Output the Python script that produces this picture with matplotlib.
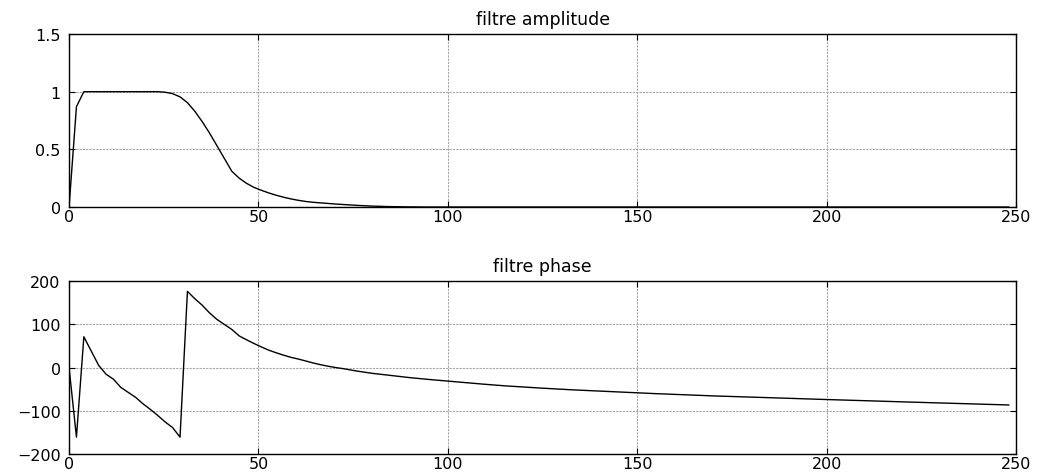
import numpy as np
import matplotlib
matplotlib.use("Agg")
import matplotlib.pyplot as plt

# frequency axis: 128 bins of a 256-point FFT at fs = 500 Hz
fs = 500
nfft = 256
freq = np.arange(128) * fs / nfft

# filter amplitude response (one value per bin)
amplitude = [
    0.0, 0.87, 1.0, 1.0, 1.0, 1.0, 1.0, 1.0, 1.0, 1.0,
    1.0, 1.0, 1.0, 0.995, 0.983, 0.955, 0.905, 0.83, 0.74, 0.64,
    0.53, 0.42, 0.31, 0.25, 0.205, 0.17, 0.145, 0.122, 0.102, 0.085,
    0.07, 0.058, 0.048, 0.041, 0.036, 0.031, 0.026, 0.022, 0.018, 0.014,
    0.011, 0.008, 0.006, 0.004, 0.003, 0.002, 0.001, 0.001, 0.0, 0.0,
    0.0, 0.0, 0.0, 0.0, 0.0, 0.0, 0.0, 0.0, 0.0, 0.0,
    0.0, 0.0, 0.0, 0.0, 0.0, 0.0, 0.0, 0.0, 0.0, 0.0,
    0.0, 0.0, 0.0, 0.0, 0.0, 0.0, 0.0, 0.0, 0.0, 0.0,
    0.0, 0.0, 0.0, 0.0, 0.0, 0.0, 0.0, 0.0, 0.0, 0.0,
    0.0, 0.0, 0.0, 0.0, 0.0, 0.0, 0.0, 0.0, 0.0, 0.0,
    0.0, 0.0, 0.0, 0.0, 0.0, 0.0, 0.0, 0.0, 0.0, 0.0,
    0.0, 0.0, 0.0, 0.0, 0.0, 0.0, 0.0, 0.0, 0.0, 0.0,
    0.0, 0.0, 0.0, 0.0, 0.0, 0.0, 0.0, 0.0,
]

# filter phase response in degrees
phase = [
    0.0, -161.0, 71.0, 38.0, 5.0, -15.5, -27.0, -46.0, -57.5, -69.0,
    -84.0, -97.0, -111.0, -126.0, -139.0, -161.0, 176.0, 159.0, 144.0, 126.0,
    111.0, 99.5, 88.0, 73.0, 64.0, 55.5, 47.5, 40.0, 34.0, 28.5,
    23.5, 19.5, 15.0, 10.5, 6.5, 3.0, 0.0, -2.5, -5.5, -8.5,
    -11.0, -13.5, -15.5, -17.5, -19.5, -21.5, -23.3, -25.0, -26.7, -28.2,
    -29.7, -31.2, -32.7, -34.2, -35.7, -37.1, -38.5, -39.9, -41.3, -42.5,
    -43.6, -44.7, -45.8, -46.8, -47.8, -48.8, -49.8, -50.8, -51.6, -52.4,
    -53.2, -54.0, -54.8, -55.6, -56.4, -57.2, -58.0, -58.8, -59.5, -60.2,
    -60.9, -61.6, -62.3, -63.0, -63.7, -64.4, -65.0, -65.6, -66.2, -66.7,
    -67.2, -67.8, -68.3, -68.9, -69.4, -70.0, -70.5, -71.1, -71.6, -72.2,
    -72.7, -73.3, -73.8, -74.4, -74.9, -75.4, -76.0, -76.5, -77.0, -77.5,
    -78.0, -78.6, -79.1, -79.6, -80.1, -80.6, -81.1, -81.6, -82.1, -82.6,
    -83.1, -83.6, -84.1, -84.6, -85.1, -85.6, -86.1, -86.6,
]

x_ticks = [0, 50, 100, 150, 200, 250]
amp_ticks = [0, 0.5, 1, 1.5]
amp_labels = ["0", "0.5", "1", "1.5"]
phase_ticks = [-200, -100, 0, 100, 200]

plt.rcParams['font.family'] = ['DejaVu Sans']


def style_axes(ax):
    ax.set_xlim(0, 250)
    ax.set_xticks(x_ticks)
    ax.grid(True, color='#a6a6a6', linestyle=(0, (2, 1)), linewidth=0.8)
    ax.tick_params(direction='in', top=True, right=True, length=4,
                   width=0.8, labelsize=11.5)
    ax.tick_params(axis='x', pad=1.5)
    ax.tick_params(axis='y', pad=6)
    for s in ax.spines.values():
        s.set_linewidth(1.0)
        s.set_color('black')


fig = plt.figure(figsize=(10.43, 4.77), dpi=100)
ax1 = fig.add_axes([0.0662, 0.5639, 0.908, 0.3627])
ax2 = fig.add_axes([0.0662, 0.0461, 0.908, 0.3627])

ax1.plot(freq, amplitude, color='black', linewidth=1.0)
style_axes(ax1)
ax1.set_ylim(0, 1.5)
ax1.set_yticks(amp_ticks)
ax1.set_yticklabels(amp_labels)
ax1.set_title("filtre amplitude", fontsize=12.5, pad=7)

ax2.plot(freq, phase, color='black', linewidth=1.0)
style_axes(ax2)
ax2.set_ylim(-200, 200)
ax2.set_yticks(phase_ticks)
ax2.set_title("filtre phase", fontsize=12.5, pad=7)

fig.savefig("out.png", dpi=100)
